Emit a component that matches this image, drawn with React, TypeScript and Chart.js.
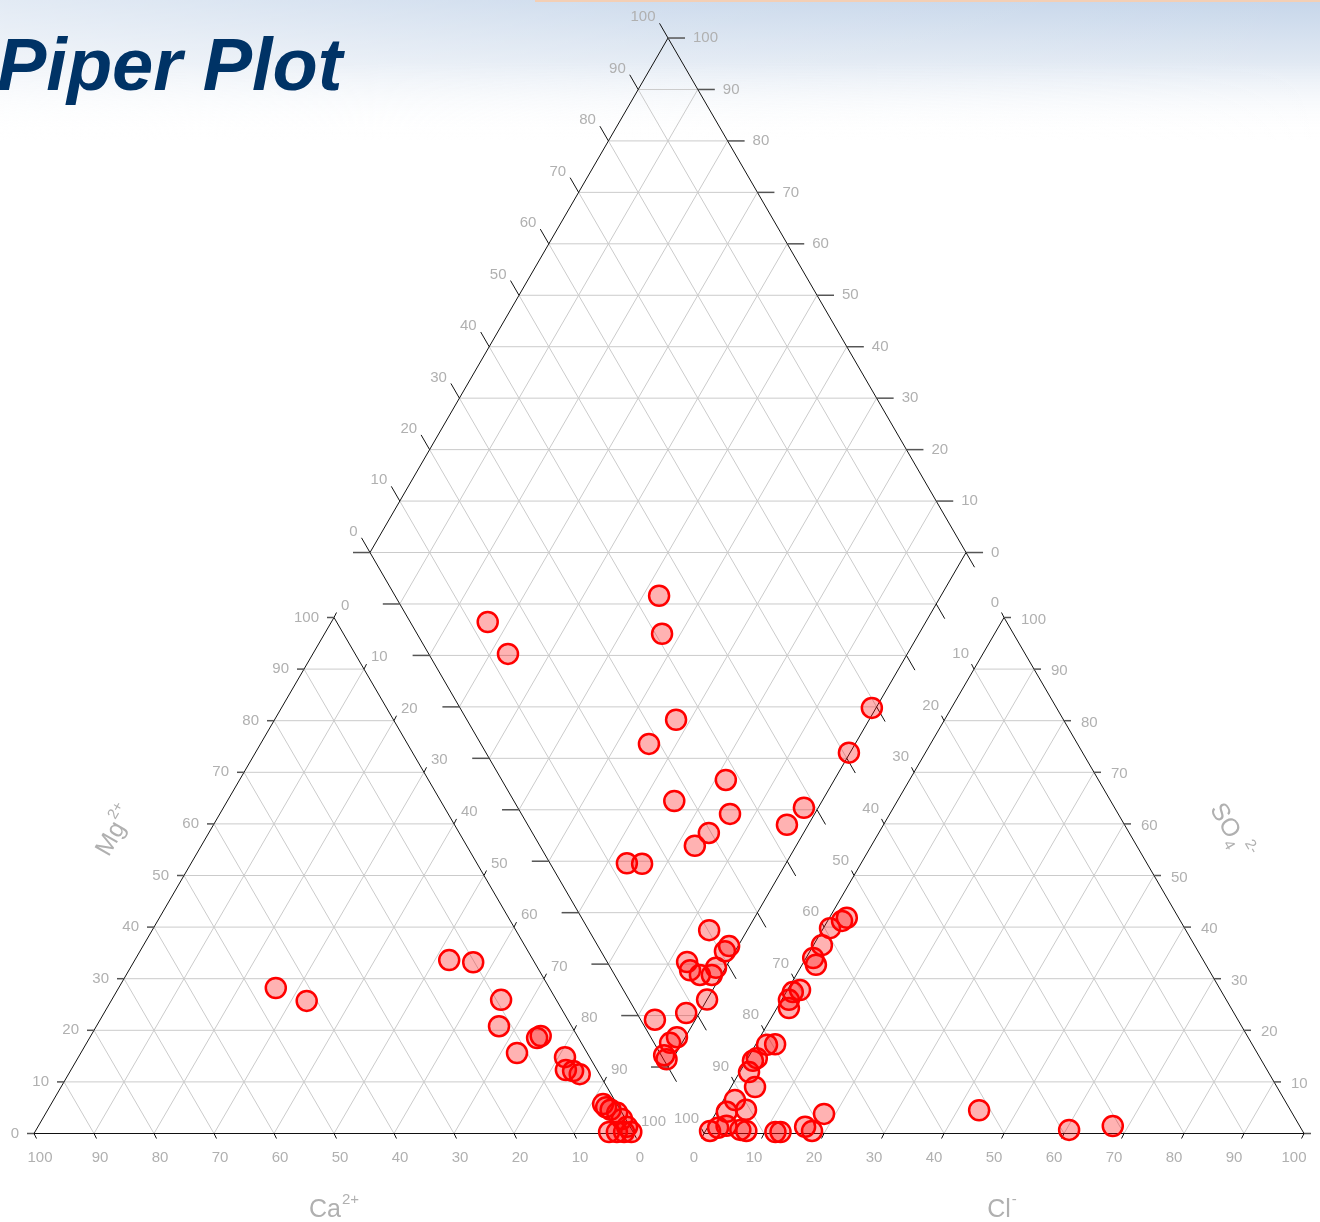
import React, { useEffect, useRef } from "react";
import { Chart, registerables } from "chart.js";
Chart.register(...registerables);

const TICKS = [0, 10, 20, 30, 40, 50, 60, 70, 80, 90, 100];

// Left (cation) triangle: Ca2+ % and Mg2+ %
const cationCa = [45.6, 41.7, 14.0, 10.2, 9.2, 12.1, 11.7, 6.1, 6.9, 4.1, 5.2, 4.1, 3.3, 2.3, 2.1, 1.6, 0.8, 0.6, 4.0, 2.7, 1.5, 0.3, 0.5];
const cationMg = [28.2, 25.7, 33.6, 33.2, 25.9, 20.8, 15.6, 18.9, 18.5, 14.8, 12.3, 12.1, 11.5, 5.7, 5.1, 4.6, 4.0, 2.8, 0.3, 0.3, 0.3, 0.3, 1.3];

// Right (anion) triangle: Cl- % and SO4 2- %
const anionCl = [0.75, 1.8, 3.0, 1.7, 1.9, 5.7, 6.8, 4.7, 4.0, 1.55, 1.1, 1.5, 1.9, 3.2, 2.0, 1.2, 1.1, 2.1, 2.3, 1.2, 1.4, 1.1, 2.4, 2.9, 18.1, 16.2, 17.75, 12.6, 11.75, 43.6, 60.5, 67.4];
const anionSO4 = [0.5, 1.1, 1.5, 4.2, 6.5, 0.7, 0.5, 4.6, 9.0, 11.9, 14.1, 14.6, 17.2, 17.3, 24.3, 25.9, 27.4, 27.8, 32.7, 34.0, 36.5, 39.8, 41.2, 41.8, 3.8, 1.3, 0.5, 0.3, 0.3, 4.5, 0.7, 1.45];

// Diamond: Na+ + K+ % and Cl- + SO4 2- %
const diamondNaK = [52.7, 56.9, 26.5, 33.0, 67.6, 65.4, 81.8, 75.2, 85.8, 84.1, 83.0, 73.3, 75.9, 96.4, 97.6, 99.8, 99.3, 93.6, 98.5, 98.3, 93.0, 94.3, 98.4, 98.4, 96.4, 100, 97.8, 93.2, 98.6, 98.0, 98.2, 99.0];
const diamondClSO4 = [44.3, 41.1, 13.0, 13.3, 35.1, 28.2, 37.6, 26.9, 35.0, 29.6, 26.0, 12.9, 15.4, 43.5, 48.0, 60.9, 69.1, 20.2, 22.0, 20.8, 13.4, 13.1, 17.7, 16.3, 14.3, 13.1, 8.3, 2.4, 4.4, 2.7, 0.5, 0.5];

// geometry (chart units)
const TRI_H = 86;
const L_X0 = 0;
const R_X0 = 111.67;
const D_CX = 105.67, D_CY = 96.83, D_HW = 49.67, D_HH = 85.75;

const leftXY = (ca: number, mg: number) => ({ x: L_X0 + (100 - ca - mg) + mg * 0.5, y: (mg * TRI_H) / 100 });
const rightXY = (cl: number, so4: number) => ({ x: R_X0 + cl + so4 * 0.5, y: (so4 * TRI_H) / 100 });
const diamondXY = (a: number, b: number) => ({ x: D_CX - D_HW + ((a + b) / 100) * D_HW, y: D_CY + ((b - a) / 100) * D_HH });

const LABEL = "#b0b0b0";
const GRID = "#cbcbcb";
const FONT = "'Liberation Sans', Arial, sans-serif";

const pipePlugin = {
  id: "piper",
  beforeDatasetsDraw(chart: any) {
    const ctx: CanvasRenderingContext2D = chart.ctx;
    const sx = chart.scales.x, sy = chart.scales.y;
    const P = (p: { x: number; y: number }) => [sx.getPixelForValue(p.x), sy.getPixelForValue(p.y)];
    const W = chart.width;
    ctx.save();
    // header background
    const g = ctx.createLinearGradient(0, 0, 0, 140);
    g.addColorStop(0, "#c6d6ea");
    g.addColorStop(0.45, "#e1e9f3");
    g.addColorStop(1, "rgba(255,255,255,0)");
    ctx.fillStyle = g;
    ctx.fillRect(0, 0, W, 140);
    const g2 = ctx.createLinearGradient(0, 0, W, 0);
    g2.addColorStop(0, "rgba(255,255,255,0.5)");
    g2.addColorStop(0.5, "rgba(255,255,255,0.15)");
    g2.addColorStop(1, "rgba(255,255,255,0)");
    ctx.fillStyle = g2;
    ctx.fillRect(0, 0, W, 140);
    ctx.fillStyle = "#f3cfb5";
    ctx.fillRect(535, 0, W - 535, 2);

    const line = (a: number[], b: number[], color: string, w = 1) => {
      ctx.strokeStyle = color;
      ctx.lineWidth = w;
      ctx.beginPath();
      ctx.moveTo(a[0], a[1]);
      ctx.lineTo(b[0], b[1]);
      ctx.stroke();
    };
    const text = (s: string, x: number, y: number, align: CanvasTextAlign) => {
      ctx.fillStyle = LABEL;
      ctx.font = `15px ${FONT}`;
      ctx.textAlign = align;
      ctx.textBaseline = "middle";
      ctx.fillText(s, x, y);
    };

    // grids
    for (let t = 10; t <= 90; t += 10) {
      line(P(leftXY(100 - t, t)), P(leftXY(0, t)), GRID);
      line(P(leftXY(t, 0)), P(leftXY(t, 100 - t)), GRID);
      line(P(leftXY(100 - t, 0)), P(leftXY(0, 100 - t)), GRID);
      line(P(rightXY(100 - t, t)), P(rightXY(0, t)), GRID);
      line(P(rightXY(t, 0)), P(rightXY(t, 100 - t)), GRID);
      line(P(rightXY(100 - t, 0)), P(rightXY(0, 100 - t)), GRID);
      line(P(diamondXY(t, 0)), P(diamondXY(t, 100)), GRID);
      line(P(diamondXY(0, t)), P(diamondXY(100, t)), GRID);
    }
    for (let d = -90; d <= 90; d += 10) {
      if (d >= 0) line(P(diamondXY(0, d)), P(diamondXY(100 - d, 100)), GRID);
      else line(P(diamondXY(-d, 0)), P(diamondXY(100, 100 + d)), GRID);
    }

    // outlines
    const poly = (pts: number[][]) => {
      ctx.strokeStyle = "#111";
      ctx.lineWidth = 1;
      ctx.beginPath();
      pts.forEach((p, i) => (i ? ctx.lineTo(p[0], p[1]) : ctx.moveTo(p[0], p[1])));
      ctx.closePath();
      ctx.stroke();
    };
    poly([P(leftXY(100, 0)), P(leftXY(0, 0)), P(leftXY(0, 100))]);
    poly([P(rightXY(0, 0)), P(rightXY(100, 0)), P(rightXY(0, 100))]);
    poly([P(diamondXY(0, 0)), P(diamondXY(100, 0)), P(diamondXY(100, 100)), P(diamondXY(0, 100))]);

    const S60 = 0.866;
    TICKS.forEach((t) => {
      const s = String(t);
      let p = P(leftXY(t, 0));
      line(p, [p[0] + 2.5, p[1] + 5], "#111");
      text(s, p[0] + 6, p[1] + 24, "center");
      p = P(leftXY(100 - t, t));
      line(p, [p[0] - 7, p[1]], "#555", 1.5);
      text(s, p[0] - 15, p[1], "right");
      p = P(leftXY(0, 100 - t));
      line(p, [p[0] + 2.5, p[1] - 5], "#111");
      text(s, p[0] + 7, p[1] - 12, "left");
      p = P(rightXY(t, 0));
      line(p, [p[0] - 2.5, p[1] + 5], "#111");
      text(s, p[0] - 10, p[1] + 24, "center");
      p = P(rightXY(0, 100 - t));
      line(p, [p[0] - 2.5, p[1] - 5], "#111");
      text(s, p[0] - 5, p[1] - 15, "right");
      p = P(rightXY(100 - t, t));
      line(p, [p[0] + 7, p[1]], "#555", 1.5);
      text(s, p[0] + 17, p[1] + 2, "left");
      p = P(diamondXY(0, t));
      let e = [p[0] - 8.5, p[1] - 17 * S60];
      line(p, e, "#111");
      text(s, e[0] - 4, e[1] - 6, "right");
      p = P(diamondXY(100 - t, 100));
      e = [p[0] + 17, p[1]];
      line(p, e, "#555", 1.5);
      text(s, e[0] + 8, e[1], "left");
      p = P(diamondXY(t, 0));
      line(p, [p[0] - 17, p[1]], "#555", 1.5);
      p = P(diamondXY(100, t));
      line(p, [p[0] + 8.5, p[1] + 17 * S60], "#111");
    });

    // axis titles
    const title = (main: string, sup: string, x: number, y: number, rot: number, sub?: string) => {
      ctx.save();
      ctx.translate(x, y);
      ctx.rotate(rot);
      ctx.fillStyle = LABEL;
      ctx.textBaseline = "alphabetic";
      ctx.textAlign = "left";
      ctx.font = `25px ${FONT}`;
      const mw = ctx.measureText(main).width;
      ctx.font = `15px ${FONT}`;
      const sw = ctx.measureText(sup).width;
      const total = mw + sw + 1;
      const x0 = -total / 2;
      ctx.font = `25px ${FONT}`;
      ctx.fillText(main, x0, 9);
      ctx.font = `15px ${FONT}`;
      if (sub) {
        ctx.fillText(sub, x0 + mw + 1, 15);
        ctx.fillText(sup, x0 + mw + 11, -4);
      } else {
        ctx.fillText(sup, x0 + mw + 1, -4);
      }
      ctx.restore();
    };
    title("Ca", "2+", 334, 1208, 0);
    title("Cl", "-", 1002, 1208, 0);
    title("Mg", "2+", 114, 830, -Math.PI / 3);
    title("SO", "2-", 1230, 826, Math.PI / 3, "4");

    // main title
    ctx.fillStyle = "#003366";
    ctx.font = `italic bold 74px ${FONT}`;
    ctx.textAlign = "left";
    ctx.textBaseline = "alphabetic";
    ctx.fillText("Piper Plot", -3, 90);
    ctx.restore();
  },
};

export default function App() {
  const ref = useRef<HTMLCanvasElement>(null);
  useEffect(() => {
    document.body.style.margin = "0";
    const style = {
      pointRadius: 10,
      pointHoverRadius: 10,
      backgroundColor: "rgba(255,0,0,0.3)",
      borderColor: "#ff0000",
      borderWidth: 2.5,
      showLine: false,
    };
    const chart = new Chart(ref.current as HTMLCanvasElement, {
      type: "scatter",
      data: {
        datasets: [
          { label: "Cations", data: cationCa.map((c, i) => leftXY(c, cationMg[i])), ...style },
          { label: "Anions", data: anionCl.map((c, i) => rightXY(c, anionSO4[i])), ...style },
          { label: "Diamond", data: diamondNaK.map((a, i) => diamondXY(a, diamondClSO4[i])), ...style },
        ],
      },
      options: {
        animation: false,
        responsive: false,
        maintainAspectRatio: false,
        layout: { padding: 0, autoPadding: false },
        plugins: { legend: { display: false }, tooltip: { enabled: false }, title: { display: false } },
        scales: {
          x: { type: "linear", min: -34 / 6, max: (1320 - 34) / 6, display: false },
          y: { type: "linear", min: (1133.5 - 1222) / 6, max: 1133.5 / 6, display: false },
        },
      },
      plugins: [pipePlugin],
    });
    return () => chart.destroy();
  }, []);
  return (
    <div style={{ width: 1320, height: 1222, background: "#fff" }}>
      <canvas ref={ref} width={1320} height={1222} style={{ display: "block" }} />
    </div>
  );
}
